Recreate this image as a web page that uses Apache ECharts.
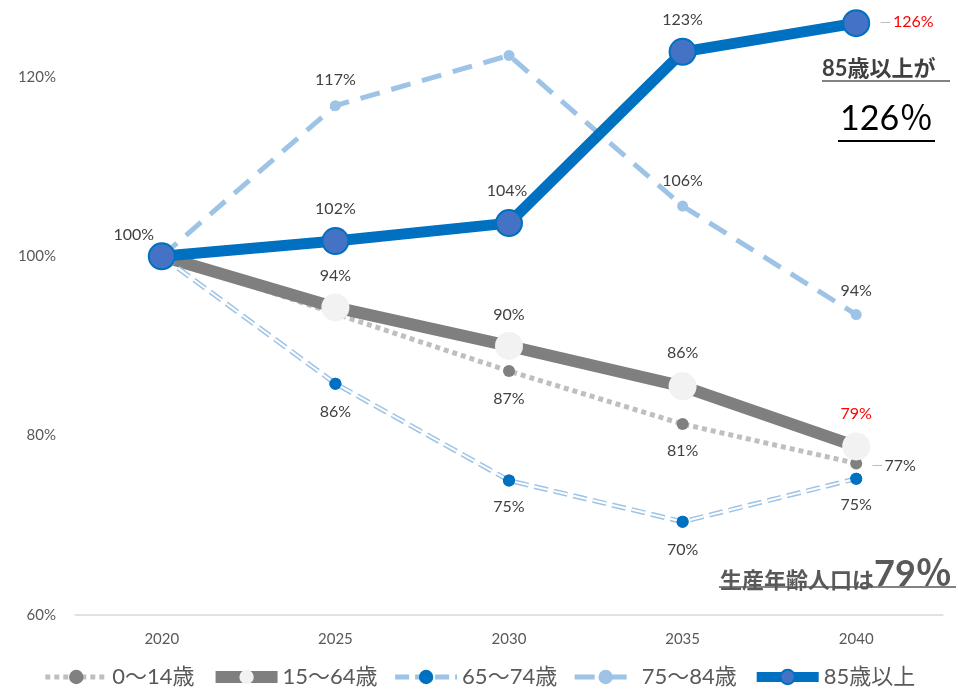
<!DOCTYPE html>
<html><head><meta charset="utf-8">
<script src="https://cdn.jsdelivr.net/npm/echarts@6/dist/echarts.min.js"></script>
<style>html,body{margin:0;padding:0;background:#fff}#c{width:958px;height:695px}</style>
</head><body><div id="c"></div>
<script>
const years = ['2020','2025','2030','2035','2040'];
const age0_14  = [100, 93.6, 87.2, 81.3, 76.9];
const age15_64 = [100, 94.3, 90.0, 85.5, 78.8];
const age65_74 = [100, 85.8, 75.0, 70.4, 75.2];
const age75_84 = [100, 116.8, 122.4, 105.6, 93.5];
const age85    = [100, 101.7, 103.7, 122.8, 126.0];
const yTicks = [60, 80, 100, 120];

const FONT = "Lato, 'Noto Sans CJK JP', sans-serif";
const LFS = 16;
const labelBase = {show:true, position:'inside', color:'#404040', fontSize:LFS, fontFamily:FONT, textBorderWidth:0,
  formatter: p => Math.round(p.value) + '%'};

function build(values, offsets, extra) {
  return values.map((v, i) => {
    const o = offsets[i];
    if (!o) return {value: v, label: {show:false}};
    const lab = Object.assign({}, labelBase, {offset: o}, (extra && extra[i]) || {});
    return {value: v, label: lab};
  });
}
const leaderFmt = p => '{d|─ }{v|' + Math.round(p.value) + '%}';
const leaderRich = c => ({d:{color:'#A6A6A6', fontSize:12, fontFamily:FONT}, v:{color:c, fontSize:LFS, fontFamily:FONT}});

const d0_14 = build(age0_14, [null, null, [0,28], [0,27], [38,2]],
  [null,null,null,null, {rich:leaderRich('#404040'), formatter: leaderFmt}]);
const d15_64 = build(age15_64, [null, [0,-32], [0,-31], [0,-33], [0,-33]],
  [null,null,null,null,{color:'#FF0000'}]);
const d65_74 = build(age65_74, [null, [0,28], [0,26], [0,28], [0,26]]);
const d75_84 = build(age75_84, [null, [0,-26], null, [0,-25], [0,-24]]);
const d85 = build(age85, [[-28,-21], [0,-32], [-2,-32], [0,-32], [51,-1]],
  [null,null,null,null, {rich:leaderRich('#FF0000'), formatter: leaderFmt}]);

const chart = echarts.init(document.getElementById('c'), null, {renderer:'canvas'});
chart.setOption({
  animation:false,
  backgroundColor:'#fff',
  grid:{left:75, right:15, top:5.2, bottom:80},
  xAxis:{type:'category', data:years, boundaryGap:true,
    axisLine:{lineStyle:{color:'#D9D9D9', width:1.5}}, axisTick:{show:false},
    axisLabel:{color:'#595959', fontSize:15, fontFamily:FONT, margin:17}},
  yAxis:{type:'value', min:60, max:128, interval:20,
    axisLine:{show:false}, axisTick:{show:false}, splitLine:{show:false},
    axisLabel:{color:'#595959', fontSize:15, fontFamily:FONT, margin:19, showMaxLabel:false,
      formatter: v => yTicks.includes(v) ? v + '%' : ''}},
  legend:{bottom:2, left:'center', itemWidth:62, itemHeight:18, itemGap:15,
    textStyle:{color:'#595959', fontSize:22, fontFamily:FONT},
    data:[
      {name:'0～14歳', lineStyle:{width:5}},
      {name:'15～64歳', lineStyle:{width:12}},
      {name:'65～74歳', lineStyle:{width:5}},
      {name:'75～84歳', lineStyle:{width:5}},
      {name:'85歳以上', lineStyle:{width:10}}
    ]},
  series:[
    {name:'0～14歳', type:'line', data:d0_14, z:2, symbol:'circle', symbolSize:12,
      lineStyle:{color:'#BFBFBF', width:5, type:[5,4], cap:'butt'},
      itemStyle:{color:'#808080'}},
    {name:'15～64歳', type:'line', data:d15_64, z:3, symbol:'circle', symbolSize:28,
      lineStyle:{color:'#7F7F7F', width:12},
      itemStyle:{color:'#F2F2F2'}},
    {name:'65～74歳', type:'line', data:age65_74, z:4, symbol:'circle', symbolSize:12,
      lineStyle:{color:'#9DC3E6', width:5, type:[14,6], cap:'butt'},
      itemStyle:{color:'#0070C0'}},
    {name:'65～74歳', type:'line', data:age65_74, z:5, symbol:'none', silent:true,
      lineStyle:{color:'#FFFFFF', width:2, type:[14,6], cap:'butt'}},
    {name:'65～74歳', type:'line', data:d65_74, z:6, symbol:'circle', symbolSize:12,
      lineStyle:{width:0, opacity:0},
      itemStyle:{color:'#0070C0'}},
    {name:'75～84歳', type:'line', data:d75_84, z:7, symbol:'circle', symbolSize:11,
      lineStyle:{color:'#9DC3E6', width:5, type:[20,12], cap:'butt'},
      itemStyle:{color:'#9DC3E6'}},
    {name:'85歳以上', type:'line', data:d85, z:8, symbol:'circle', symbolSize:26,
      lineStyle:{color:'#0070C0', width:11},
      itemStyle:{color:'#4472C4', borderColor:'#0070C0', borderWidth:2}}
  ],
  graphic:[
    {type:'text', left:822, top:58, style:{text:'85歳以上が', fill:'#404040', font:"bold 22px " + FONT}},
    {type:'line', shape:{x1:822, y1:81, x2:950, y2:81}, style:{stroke:'#595959', lineWidth:1.5}},
    {type:'text', left:840, top:102, style:{text:'126％', fill:'#000000', font:"34px " + FONT}},
    {type:'line', shape:{x1:838, y1:141, x2:935, y2:141}, style:{stroke:'#000000', lineWidth:2}},
    {type:'text', left:720, top:556, style:{text:'{a|生産年齢人口は}{b|79％}',
      rich:{a:{fill:'#595959', font:"bold 22px " + FONT, verticalAlign:'bottom'}, b:{fill:'#595959', font:"bold 36px " + FONT, verticalAlign:'bottom'}}}},
    {type:'line', shape:{x1:719, y1:587, x2:956, y2:587}, style:{stroke:'#595959', lineWidth:1.5}}
  ]
});
</script></body></html>
